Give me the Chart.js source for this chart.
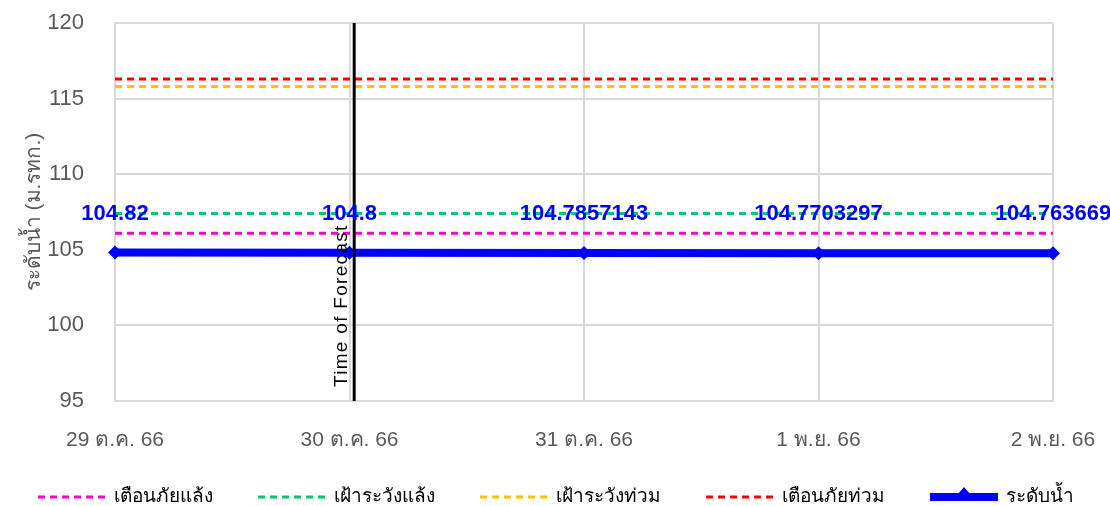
<!DOCTYPE html>
<html>
<head>
<meta charset="utf-8">
<script src="https://cdn.jsdelivr.net/npm/chart.js@4"></script>
<style>
  html, body { margin: 0; padding: 0; background: #fff; }
  #wrap { width: 1110px; height: 506px; }
</style>
</head>
<body>
<div id="wrap"><canvas id="chart"></canvas></div>
<script>
const dates = ['29 ต.ค. 66', '30 ต.ค. 66', '31 ต.ค. 66', '1 พ.ย. 66', '2 พ.ย. 66'];
const waterLevel = [104.82, 104.8, 104.7857143, 104.7703297, 104.763669];
const droughtWarning = [106.1, 106.1, 106.1, 106.1, 106.1];
const droughtWatch = [107.4, 107.4, 107.4, 107.4, 107.4];
const floodWatch = [115.8, 115.8, 115.8, 115.8, 115.8];
const floodWarning = [116.3, 116.3, 116.3, 116.3, 116.3];
const forecastAt = 1.02;

const FONT = '"Liberation Sans", Arial, "Noto Sans", sans-serif';

const dashed = (label, data, color) => ({
  label, data,
  borderColor: color,
  backgroundColor: color,
  borderWidth: 3,
  borderDash: [7, 5],
  pointRadius: 0,
  fill: false
});

// vertical "Time of Forecast" line, blue value labels and a hand-drawn legend
const extras = {
  id: 'extras',
  afterDatasetsDraw(chart) {
    const { ctx, chartArea, scales } = chart;
    const x = scales.x.getPixelForValue(forecastAt);
    ctx.save();
    ctx.strokeStyle = '#000';
    ctx.lineWidth = 3;
    ctx.beginPath();
    ctx.moveTo(x, chartArea.top);
    ctx.lineTo(x, chartArea.bottom);
    ctx.stroke();

    ctx.translate(x - 12, 387);
    ctx.rotate(-Math.PI / 2);
    ctx.fillStyle = '#000';
    ctx.font = '19px ' + FONT;
    ctx.letterSpacing = '1.3px';
    ctx.textAlign = 'left';
    ctx.textBaseline = 'middle';
    ctx.fillText('Time of Forecast', 0, 0);
    ctx.restore();

    const meta = chart.getDatasetMeta(4);
    ctx.save();
    ctx.fillStyle = '#0000ff';
    ctx.font = 'bold 22px ' + FONT;
    ctx.textAlign = 'center';
    ctx.textBaseline = 'middle';
    meta.data.forEach((pt, i) => {
      ctx.fillText(String(waterLevel[i]), pt.x, pt.y - 39);
    });
    ctx.restore();

    // legend
    ctx.save();
    ctx.font = '19px ' + FONT;
    ctx.textBaseline = 'middle';
    const lineW = 68, gap = 8, itemGap = 45, y = 497;
    const items = chart.data.datasets.map(ds => ({ ds, w: lineW + gap + ctx.measureText(ds.label).width }));
    const total = items.reduce((s, it) => s + it.w, 0) + itemGap * (items.length - 1);
    let cx = (chart.width - total) / 2 + 1;
    items.forEach(({ ds, w }) => {
      ctx.strokeStyle = ds.borderColor;
      ctx.lineWidth = ds.borderWidth;
      ctx.setLineDash(ds.borderDash || []);
      ctx.beginPath();
      ctx.moveTo(cx, y);
      ctx.lineTo(cx + lineW, y);
      ctx.stroke();
      ctx.setLineDash([]);
      if (!ds.borderDash) {
        ctx.fillStyle = ds.borderColor;
        ctx.beginPath();
        ctx.moveTo(cx + lineW / 2, y - 10);
        ctx.lineTo(cx + lineW / 2 + 6, y - 3);
        ctx.lineTo(cx + lineW / 2, y + 4);
        ctx.lineTo(cx + lineW / 2 - 6, y - 3);
        ctx.fill();
      }
      ctx.fillStyle = '#000';
      ctx.fillText(ds.label, cx + lineW + gap, y);
      cx += w + itemGap;
    });
    ctx.restore();
  }
};

new Chart(document.getElementById('chart'), {
  type: 'line',
  data: {
    labels: dates,
    datasets: [
      dashed('เตือนภัยแล้ง', droughtWarning, '#ff00cc'),
      dashed('เฝ้าระวังแล้ง', droughtWatch, '#00c86e'),
      dashed('เฝ้าระวังท่วม', floodWatch, '#ffc000'),
      dashed('เตือนภัยท่วม', floodWarning, '#ff0000'),
      {
        label: 'ระดับน้ำ',
        data: waterLevel,
        borderColor: '#0000ff',
        backgroundColor: '#0000ff',
        borderWidth: 8,
        pointStyle: 'rectRot',
        pointRadius: 7,
        pointBorderWidth: 0,
        fill: false
      }
    ]
  },
  options: {
    responsive: true,
    maintainAspectRatio: false,
    animation: false,
    layout: { padding: { top: 23, right: 57, bottom: 45, left: 0 } },
    plugins: {
      legend: { display: false },
      tooltip: { enabled: false }
    },
    scales: {
      x: {
        offset: false,
        grid: { color: '#d9d9d9', lineWidth: 2, drawTicks: true, tickLength: 24, tickColor: 'rgba(0,0,0,0)' },
        border: { color: '#d9d9d9', width: 2 },
        ticks: { color: '#595959', font: { family: FONT, size: 21 }, padding: 3, maxRotation: 0, autoSkip: false },
        afterFit: s => { s.height = 60; }
      },
      y: {
        min: 95,
        max: 120,
        grid: { color: '#d9d9d9', lineWidth: 2, drawTicks: true, tickLength: 28, tickColor: 'rgba(0,0,0,0)' },
        border: { color: '#d9d9d9', width: 2 },
        ticks: { stepSize: 5, color: '#595959', font: { family: FONT, size: 22 }, padding: 3 },
        title: {
          display: true,
          text: 'ระดับน้ำ (ม.รทก.)',
          color: '#595959',
          font: { family: FONT, size: 21 },
          padding: { top: 22, bottom: 0 }
        },
        afterFit: s => { s.width = 115; }
      }
    }
  },
  plugins: [extras]
});
</script>
</body>
</html>
